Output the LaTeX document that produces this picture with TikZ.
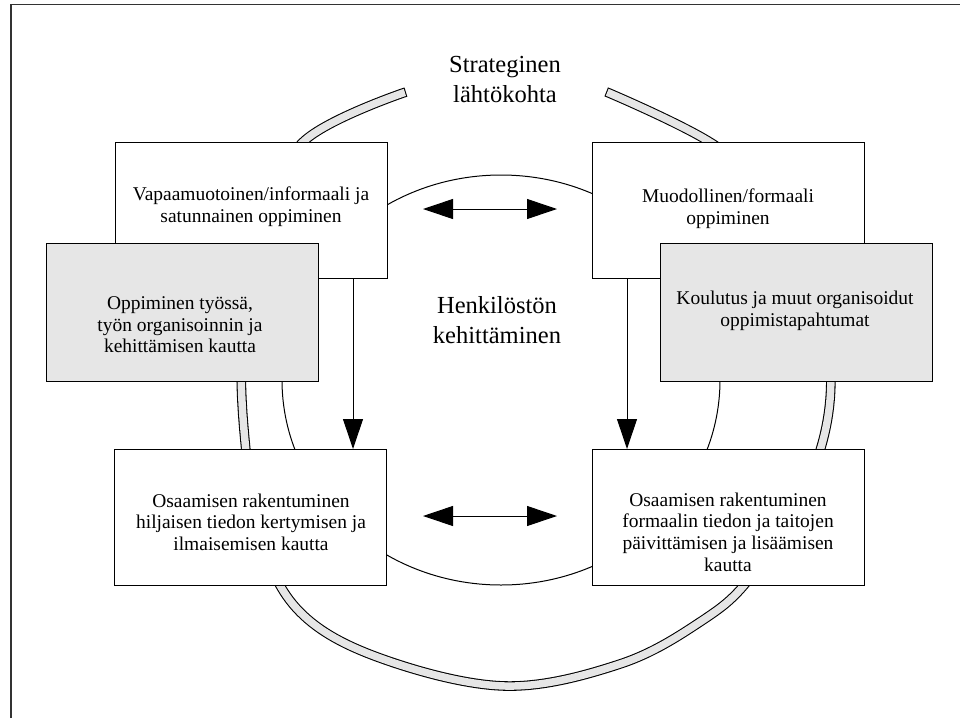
\documentclass[tikz,border=0pt]{standalone}
\usepackage{fontspec}
\setmainfont{Liberation Serif}
\usetikzlibrary{arrows.meta}

\definecolor{boxgray}{HTML}{E6E6E6}

\tikzset{
  box/.style={draw=black, line width=0.75pt, fill=white, anchor=north west,
              minimum width=204pt, minimum height=102pt, inner sep=0pt},
  graybox/.style={box, fill=boxgray, minimum height=103.5pt},
  boxtext/.style={align=center, inner sep=0pt,
                  font=\fontsize{14.6}{16.2}\selectfont},
  bigtext/.style={align=center, inner sep=0pt,
                  font=\fontsize{18.4}{22.5}\selectfont},
  link/.style={line width=0.75pt, -{Triangle[length=22.5pt, width=15pt]}},
  duallink/.style={line width=0.75pt,
                   {Triangle[length=22.5pt, width=15pt]}-{Triangle[length=22.5pt, width=15pt]}},
  band/.style={line width=7.2pt, draw=black},
  bandfill/.style={line width=5.6pt, draw=boxgray},
}

\begin{document}
\begin{tikzpicture}[x=0.75pt, y=-0.75pt]
  \useasboundingbox (0,0) rectangle (960,718);

  % open frame: top and left edges
  \draw[line width=1.1pt, black!80] (11,718) -- (11,4.5) -- (960,4.5);

  % outer wide band (strategic cycle); short straight stubs at both ends
  % keep the end caps clean
  \def\bandpath{(405.9,92.1) -- plot[smooth, tension=0.6] coordinates {
      (403,93) (303,142) (262,230) (243,330) (244,430)
      (261,538) (300,612) (380,658) (505,686) (620,664) (700,622)
      (750,578) (805,490) (830,400) (821,300) (782,212) (716,146)
      (609,93)} -- (606.2,91.9)}
  \draw[band] \bandpath;
  \draw[bandfill, shorten <=0.8pt, shorten >=0.8pt] \bandpath;

  % inner thin ellipse
  \draw[line width=0.75pt] (501,380) ellipse [x radius=219, y radius=205];

  % boxes
  \node[box] (A) at (115,142) {};
  \node[box] (B) at (592,142) {};
  \node[graybox] (C) at (46,243) {};
  \node[graybox] (D) at (660,243) {};
  \node[box] (E) at (114,449) {};
  \node[box] (F) at (592,449) {};

  % texts
  \node[bigtext] (title) at (505,79) {Strateginen\\lähtökohta};
  \node[bigtext] (centre) at (497,320) {Henkilöstön\\kehittäminen};
  \node[boxtext] (tA) at (251,207) {Vapaamuotoinen/informaali ja\\satunnainen oppiminen};
  \node[boxtext] (tB) at (728,209) {Muodollinen/formaali\\oppiminen};
  \node[boxtext] (tC) at (180,325) {Oppiminen työssä,\\työn organisoinnin ja\\kehittämisen kautta};
  \node[boxtext] (tD) at (795,311) {Koulutus ja muut organisoidut\\oppimistapahtumat};
  \node[boxtext] (tE) at (251,522) {Osaamisen rakentuminen\\hiljaisen tiedon kertymisen ja\\ilmaisemisen kautta};
  \node[boxtext] (tF) at (728,532) {Osaamisen rakentuminen\\formaalin tiedon ja taitojen\\päivittämisen ja lisäämisen\\kautta};

  % arrows
  \coordinate (axL) at (353,0);
  \coordinate (axR) at (627,0);
  \draw[link] (A.south -| axL) -- (E.north -| axL);
  \draw[link] (B.south -| axR) -- (F.north -| axR);

  \coordinate (topL) at (423,209);
  \coordinate (topR) at (557,209);
  \coordinate (botL) at (423,516);
  \coordinate (botR) at (557,516);
  \draw[duallink] (topL) -- (topR);
  \draw[duallink] (botL) -- (botR);
\end{tikzpicture}
\end{document}
